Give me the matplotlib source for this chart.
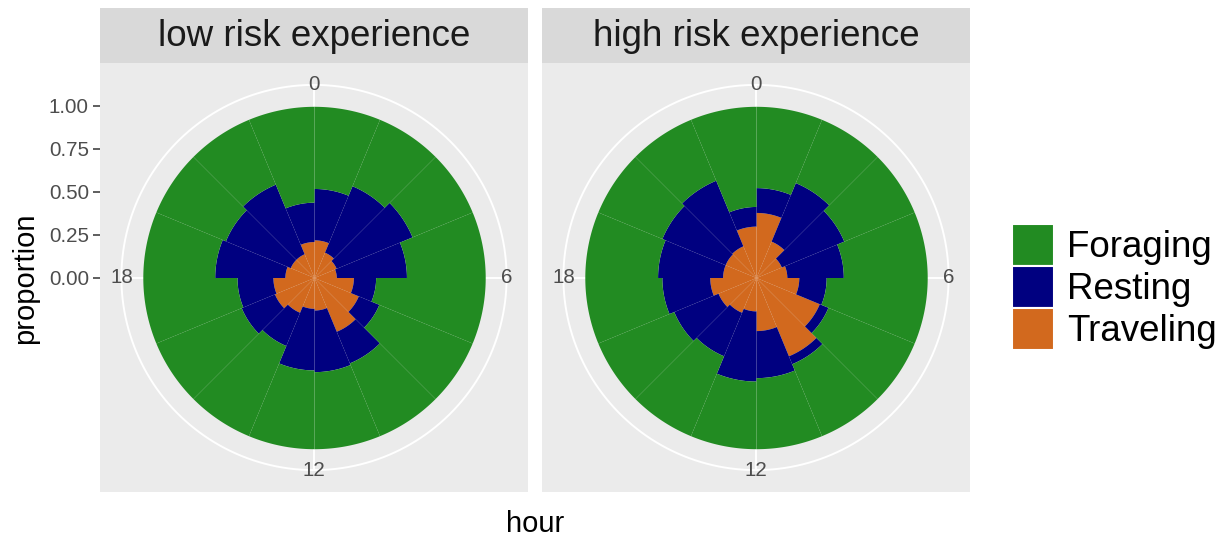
import numpy as np
import matplotlib
matplotlib.use("Agg")
import matplotlib.pyplot as plt
from matplotlib.patches import Patch, Rectangle

plt.rcParams["font.family"] = ["Liberation Sans", "DejaVu Sans"]

# 1.5 hour bins, start of each bin
hours = [0, 1.5, 3, 4.5, 6, 7.5, 9, 10.5, 12, 13.5, 15, 16.5, 18, 19.5, 21, 22.5]
behaviours = ["Foraging", "Resting", "Traveling"]
panels = ["low risk experience", "high risk experience"]

# proportion of time in each behaviour per bin
low_traveling = [0.22, 0.16, 0.14, 0.13, 0.23, 0.28, 0.34, 0.19,
                 0.18, 0.22, 0.25, 0.24, 0.17, 0.15, 0.15, 0.21]
low_resting = [0.30, 0.42, 0.48, 0.41, 0.13, 0.13, 0.20, 0.36,
               0.36, 0.21, 0.21, 0.21, 0.41, 0.41, 0.44, 0.23]
low_foraging = [0.48, 0.42, 0.38, 0.46, 0.64, 0.59, 0.46, 0.45,
                0.46, 0.57, 0.54, 0.55, 0.42, 0.44, 0.41, 0.56]

high_traveling = [0.38, 0.23, 0.16, 0.18, 0.25, 0.40, 0.495, 0.31,
                  0.195, 0.22, 0.24, 0.27, 0.195, 0.195, 0.20, 0.30]
high_resting = [0.145, 0.37, 0.395, 0.33, 0.16, 0.055, 0.05, 0.275,
                0.41, 0.275, 0.28, 0.28, 0.38, 0.40, 0.415, 0.115]
high_foraging = [0.475, 0.40, 0.445, 0.49, 0.59, 0.545, 0.455, 0.415,
                 0.395, 0.505, 0.48, 0.45, 0.425, 0.405, 0.385, 0.585]

colors = {"Foraging": "#228B22", "Resting": "#000080", "Traveling": "#D2691E"}
hour_breaks = [0, 6, 12, 18]
prop_breaks = [0.00, 0.25, 0.50, 0.75, 1.00]

W, H = 1229, 544
fig = plt.figure(figsize=(W / 100, H / 100), dpi=100)


def rect(x0, y0, x1, y1):
    return [x0 / W, 1 - y1 / H, (x1 - x0) / W, (y1 - y0) / H]


def wedge_bars(ax, theta, width, bottom, height, color):
    # stacked polar bar segments with arc-shaped edges
    for t0, b, h in zip(theta, bottom, height):
        t = np.linspace(t0, t0 + width, 40)
        ax.fill_between(t, b, b + h, color=color, linewidth=0, zorder=2)


data = {
    panels[0]: (low_traveling, low_resting, low_foraging),
    panels[1]: (high_traveling, high_resting, high_foraging),
}

panel_x = [(100, 528), (542, 970)]
top, bottom = 63, 492
rmax = 1.25          # radius of panel edge in data units
rcircle = 1.125      # outer guide circle / label ring

for k, name in enumerate(panels):
    x0, x1 = panel_x[k]

    # grey panel background
    bg = fig.add_axes(rect(x0, top, x1, bottom))
    bg.set_facecolor("#EBEBEB")
    bg.set_xlim(-rmax, rmax)
    bg.set_ylim(-rmax, rmax)
    for s in bg.spines.values():
        s.set_visible(False)
    bg.set_xticks([])
    if k == 0:
        bg.set_yticks(prop_breaks)
        bg.set_yticklabels(["%.2f" % v for v in prop_breaks])
        bg.tick_params(axis="y", length=5, width=1.1, color="#333333",
                       labelsize=14.8, labelcolor="#4D4D4D", pad=3)
    else:
        bg.set_yticks([])

    # strip on top
    fig.patches.append(Rectangle((x0 / W, 1 - top / H), (x1 - x0) / W, 55 / H,
                                 transform=fig.transFigure,
                                 facecolor="#D9D9D9", edgecolor="none"))
    fig.text((x0 + x1) / 2 / W, 1 - 36 / H, name, ha="center", va="center",
             fontsize=26.5, color="#1A1A1A")

    # polar bars
    ax = fig.add_axes(rect(x0, top, x1, bottom), projection="polar")
    ax.set_theta_zero_location("N")
    ax.set_theta_direction(-1)
    ax.set_ylim(0, rmax)
    ax.axis("off")

    theta = np.array(hours) / 24 * 2 * np.pi
    width = 2 * np.pi / len(hours)

    fine = np.linspace(0, 2 * np.pi, 400)
    ax.plot(fine, np.full_like(fine, rcircle), color="white", lw=1.4, zorder=1)
    for h in hour_breaks:
        t = h / 24 * 2 * np.pi
        ax.plot([t, t], [0, rcircle], color="white", lw=1.4, zorder=1)

    trav, rest, forg = (np.array(v) for v in data[name])
    wedge_bars(ax, theta, width, np.zeros_like(trav), trav, colors["Traveling"])
    wedge_bars(ax, theta, width, trav, rest, colors["Resting"])
    wedge_bars(ax, theta, width, trav + rest, forg, colors["Foraging"])
    ax.set_ylim(0, rmax)

    for h in hour_breaks:
        t = h / 24 * 2 * np.pi
        ax.text(t, rcircle, str(h), ha="center", va="center",
                fontsize=14.8, color="#4D4D4D", zorder=3)

# axis titles
fig.text(25 / W, 1 - 278 / H, "proportion", rotation=90, ha="center",
         va="center", fontsize=21, color="black")
fig.text(535 / W, 1 - 524 / H, "hour", ha="center", va="center",
         fontsize=21, color="black")

# legend
handles = [Patch(facecolor=colors[b], edgecolor="white", linewidth=1.5)
           for b in behaviours]
fig.legend(handles, behaviours, loc="center left",
           bbox_to_anchor=(1012 / W, 1 - 287 / H), frameon=False,
           fontsize=26.5, handlelength=1.15, handleheight=1.38,
           handletextpad=0.35, labelspacing=0.0, borderpad=0,
           borderaxespad=0)

fig.savefig("out.png", dpi=100)
